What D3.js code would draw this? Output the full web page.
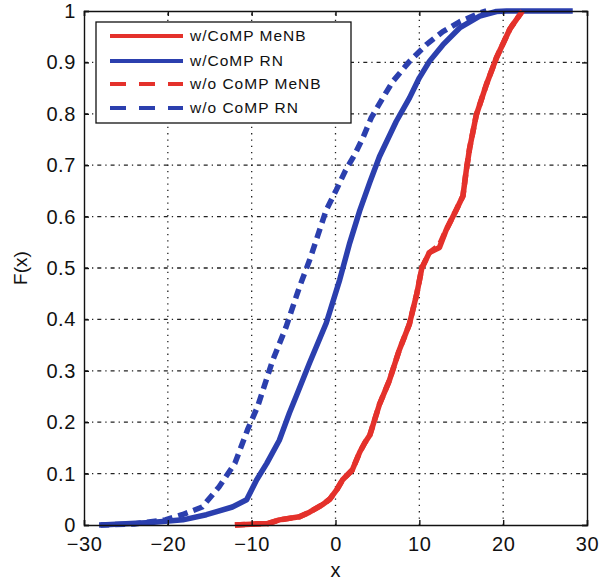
<!DOCTYPE html>
<html>
<head>
<meta charset="utf-8">
<script src="https://cdn.jsdelivr.net/npm/d3@7"></script>
<style>
  body { margin: 0; background: #fff; }
  svg { display: block; font-family: "Liberation Sans", Arial, Helvetica, sans-serif; }
</style>
</head>
<body>
<svg id="chart" width="603" height="580"></svg>
<script>
// ---------- data ----------
const xTicks = [-30, -20, -10, 0, 10, 20, 30];
const yTicks = [0, 0.1, 0.2, 0.3, 0.4, 0.5, 0.6, 0.7, 0.8, 0.9, 1];
const yTickLabels = ["0", "0.1", "0.2", "0.3", "0.4", "0.5", "0.6", "0.7", "0.8", "0.9", "1"];
const seriesNames = ["w/CoMP MeNB", "w/CoMP RN", "w/o CoMP MeNB", "w/o CoMP RN"];

const menbX = [-12, -8, -6.7, -4.3, -3.1, -1.5, -0.7, 0.2, 0.85, 2.0, 2.9, 3.5, 4.1, 5.25, 6.4, 7.6, 8.8, 9.7, 10.3, 11.2, 12.4, 13.2, 14.4, 15.2, 15.6, 16.0, 16.8, 18.0, 19.2, 20.8, 22.3];
const menbF = [0, 0.003, 0.01, 0.016, 0.025, 0.04, 0.05, 0.07, 0.088, 0.107, 0.142, 0.16, 0.175, 0.235, 0.28, 0.34, 0.39, 0.45, 0.50, 0.53, 0.54, 0.574, 0.613, 0.64, 0.69, 0.733, 0.798, 0.857, 0.909, 0.965, 1.0];

const menbNoX = [-12, -8, -6.7, -4.3, -3.1, -1.5, -0.7, 0.2, 0.85, 2.0, 2.9, 3.5, 4.1, 5.25, 6.4, 7.6, 8.8, 9.7, 10.3, 11.2, 12.4, 13.2, 14.4, 15.2, 15.6, 16.0, 16.8, 18.0, 19.2, 20.8, 22.3];
const menbNoF = [0, 0.003, 0.01, 0.016, 0.025, 0.04, 0.05, 0.07, 0.088, 0.107, 0.142, 0.16, 0.175, 0.235, 0.28, 0.34, 0.39, 0.45, 0.50, 0.53, 0.545, 0.574, 0.613, 0.64, 0.69, 0.733, 0.798, 0.857, 0.909, 0.965, 1.0];

const rnX = [-28, -22, -18.2, -15.4, -12.3, -10.6, -9.4, -8.2, -6.7, -5.5, -4.7, -3.1, -1.1, 0.5, 1.7, 2.9, 4.1, 5.25, 7.24, 8.83, 10.0, 11.2, 12.8, 14.8, 17.2, 19.2, 20.4, 28.3];
const rnF = [0, 0.005, 0.01, 0.02, 0.035, 0.049, 0.088, 0.12, 0.165, 0.218, 0.25, 0.315, 0.393, 0.477, 0.549, 0.612, 0.667, 0.717, 0.785, 0.831, 0.87, 0.902, 0.934, 0.967, 0.99, 0.999, 1, 1];

const rnNoX = [-28.2, -24, -20.3, -18.3, -15.9, -13.9, -12.0, -10.5, -9.3, -7.5, -5.9, -4.3, -3.1, -2.3, -1.1, 0.1, 1.2, 2.27, 3.26, 4.26, 5.65, 6.84, 8.83, 10.8, 12.8, 14.8, 17.2, 18];
const rnNoF = [0, 0.002, 0.01, 0.02, 0.035, 0.074, 0.12, 0.185, 0.23, 0.32, 0.385, 0.463, 0.515, 0.554, 0.613, 0.652, 0.69, 0.72, 0.753, 0.792, 0.831, 0.863, 0.902, 0.934, 0.96, 0.979, 0.996, 1];

// ---------- layout ----------
const RED = "#e4312b", BLUE = "#2b3fae";
const W = 603, H = 580;
const m = { left: 84, right: W - 587, top: 11, bottom: H - 525 };
const svg = d3.select("#chart");
const x = d3.scaleLinear().domain([-30, 30]).range([m.left, W - m.right]);
const y = d3.scaleLinear().domain([0, 1]).range([H - m.bottom, m.top]);

// grid
const g = svg.append("g");
g.selectAll(".vg").data(xTicks.slice(1, -1)).enter().append("line")
  .attr("x1", d => x(d)).attr("x2", d => x(d))
  .attr("y1", y(0)).attr("y2", y(1))
  .attr("stroke", "#222").attr("stroke-width", 1.3)
  .attr("stroke-dasharray", "1.3,5");
g.selectAll(".hg").data(yTicks.slice(1, -1)).enter().append("line")
  .attr("x1", x(-30)).attr("x2", x(30))
  .attr("y1", d => y(d)).attr("y2", d => y(d))
  .attr("stroke", "#222").attr("stroke-width", 1.3)
  .attr("stroke-dasharray", "4,4,1.3,4");

// curves
const line = d3.line().x(d => x(d[0])).y(d => y(d[1]));
function draw(xs, fs, color, dash) {
  svg.append("path")
    .datum(xs.map((v, i) => [v, fs[i]]))
    .attr("d", line)
    .attr("fill", "none")
    .attr("stroke", color)
    .attr("stroke-width", 5.5)
    .attr("stroke-linejoin", "round")
    .attr("stroke-dasharray", dash ? "10,6" : null);
}
draw(menbX, menbF, RED, false);
draw(rnX, rnF, BLUE, false);
draw(menbNoX, menbNoF, RED, true);
draw(rnNoX, rnNoF, BLUE, true);

// axes frame & ticks
const axB = svg.append("g").attr("transform", `translate(0,${y(0)})`)
  .call(d3.axisBottom(x).tickValues(xTicks).tickSize(-5).tickPadding(12).tickFormat(d => d < 0 ? "\u2212" + Math.abs(d) : d));
const axT = svg.append("g").attr("transform", `translate(0,${y(1)})`)
  .call(d3.axisTop(x).tickValues(xTicks).tickSize(-5).tickFormat(""));
const axL = svg.append("g").attr("transform", `translate(${x(-30)},0)`)
  .call(d3.axisLeft(y).tickValues(yTicks).tickSize(-5).tickPadding(8).tickFormat((d, i) => yTickLabels[i]));
const axR = svg.append("g").attr("transform", `translate(${x(30)},0)`)
  .call(d3.axisRight(y).tickValues(yTicks).tickSize(-5).tickFormat(""));
[axB, axT, axL, axR].forEach(a => {
  a.select(".domain").attr("stroke", "#111").attr("stroke-width", 1.4);
  a.selectAll(".tick line").attr("stroke", "#111").attr("stroke-width", 1.4);
  a.selectAll("text").attr("fill", "#111").style("font-size", "20px")
    .style("font-family", '"Liberation Sans", Arial, sans-serif').style("letter-spacing", "0.6px");
});
axB.selectAll("text").attr("dy", "0.71em");

// axis titles
svg.append("text").attr("x", x(0)).attr("y", 577).attr("text-anchor", "middle")
  .style("font-size", "20px").attr("fill", "#111").text("x");
svg.append("text").attr("transform", `translate(27,${268}) rotate(-90)`).attr("text-anchor", "middle")
  .style("font-size", "19px").attr("fill", "#111").text("F(x)");

// legend
const lg = svg.append("g");
lg.append("rect").attr("x", 96).attr("y", 22).attr("width", 255).attr("height", 101)
  .attr("fill", "#fff").attr("stroke", "#111").attr("stroke-width", 1.3);
const rowsY = [36, 61, 84, 108];
const colors = [RED, BLUE, RED, BLUE];
const dashed = [false, false, true, true];
seriesNames.forEach((name, i) => {
  lg.append("line").attr("x1", 110).attr("x2", 183).attr("y1", rowsY[i]).attr("y2", rowsY[i])
    .attr("stroke", colors[i]).attr("stroke-width", 4)
    .attr("stroke-dasharray", dashed[i] ? "16,13" : null);
  lg.append("text").attr("x", 190).attr("y", rowsY[i]).attr("dy", "0.35em")
    .style("font-size", "15.5px").style("letter-spacing", "1px").attr("fill", "#111").text(name);
});
</script>
</body>
</html>
